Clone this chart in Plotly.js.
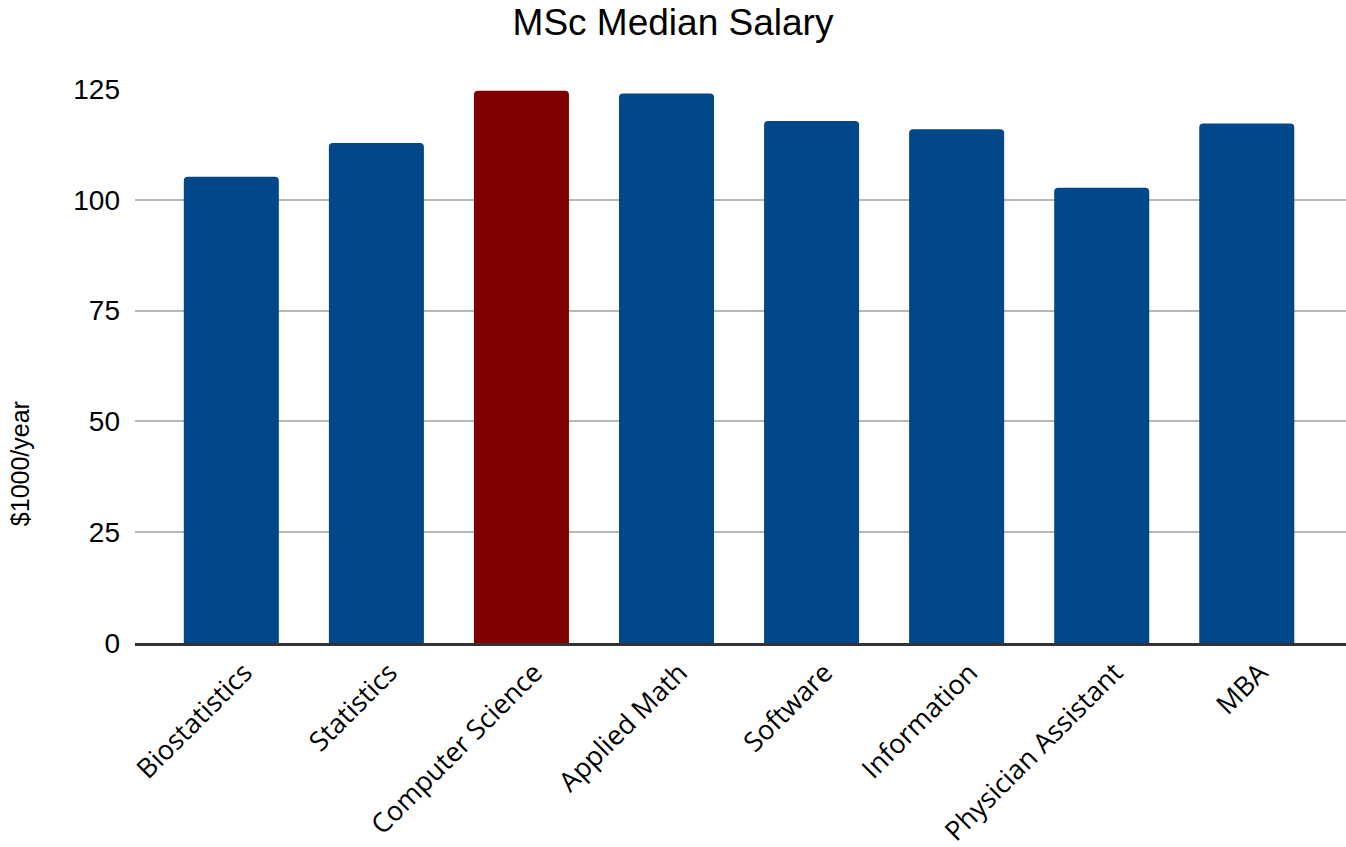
<!DOCTYPE html>
<html>
<head>
<meta charset="utf-8">
<script src="https://cdn.plot.ly/plotly-3.0.1.min.js"></script>
<style>html,body{margin:0;padding:0;background:#fff;}#chart{width:1346px;height:847px;}</style>
</head>
<body>
<div id="chart"></div>
<script>
const categories = ["Biostatistics", "Statistics", "Computer Science", "Applied Math", "Software", "Information", "Physician Assistant", "MBA"];
const salaries = [105.2, 112.8, 124.6, 124.0, 117.8, 115.9, 102.7, 117.2];
const barColors = ["#01478a", "#01478a", "#800000", "#01478a", "#01478a", "#01478a", "#01478a", "#01478a"];
const yTicks = [0, 25, 50, 75, 100, 125];

const trace = {
  type: 'bar',
  x: categories,
  y: salaries,
  marker: {color: barColors, cornerradius: 4, line: {width: 0}},
  hoverinfo: 'x+y'
};

const layout = {
  width: 1346, height: 847,
  margin: {l: 135, r: 0, t: 89, b: 204, pad: 0},
  paper_bgcolor: '#ffffff', plot_bgcolor: '#ffffff',
  bargap: 0.345,
  showlegend: false,
  title: {
    text: 'MSc Median Salary',
    font: {family: 'Liberation Sans, Arial, sans-serif', size: 37, color: '#000'},
    x: 0.5, xref: 'container', xanchor: 'center',
    y: 0.9895, yref: 'container', yanchor: 'top'
  },
  xaxis: {
    type: 'category',
    range: [-0.664, 7.684],
    tickangle: -45,
    tickfont: {family: 'Open Sans, sans-serif', size: 27, color: '#000'},
    showgrid: false,
    showline: true, linecolor: '#333333', linewidth: 3,
    ticks: '',
    ticklabelstandoff: 0,
    ticklabelshift: 13,
    fixedrange: true
  },
  yaxis: {
    range: [0, 125],
    tickvals: yTicks,
    tickfont: {family: 'Liberation Sans, Arial, sans-serif', size: 28, color: '#000'},
    showgrid: true, gridcolor: '#b7b7b7', gridwidth: 2,
    zeroline: false, showline: false,
    ticks: '',
    ticklabelstandoff: 14,
    fixedrange: true
  },
  annotations: [{
    text: '$1000/year',
    xref: 'paper', yref: 'paper',
    x: -0.095, y: 0.3245,
    xanchor: 'center', yanchor: 'middle',
    textangle: -90,
    showarrow: false,
    font: {family: 'Liberation Sans, Arial, sans-serif', size: 25, color: '#000'}
  }]
};

Plotly.newPlot('chart', [trace], layout, {displayModeBar: false, staticPlot: true});
</script>
</body>
</html>
